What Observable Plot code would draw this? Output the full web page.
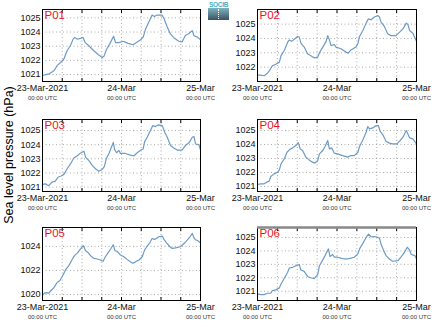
<!DOCTYPE html>
<html><head><meta charset="utf-8">
<script src="https://cdn.jsdelivr.net/npm/d3@7"></script>
<script src="https://cdn.jsdelivr.net/npm/@observablehq/plot@0.6"></script>
<style>
html,body{margin:0;padding:0;background:#fff}
#wrap{position:relative;width:434px;height:327px;overflow:hidden;font-family:"Liberation Sans",Arial,sans-serif}
.panel{position:absolute}
#ylab{position:absolute;left:9px;top:155px;transform:translate(-50%,-50%) rotate(-90deg);white-space:nowrap;font-size:12.5px;color:#000}
#logo{position:absolute;left:208px;top:2px;width:21px;height:18px}
#logo .t{font-size:6.5px;line-height:6px;color:#3fb3c8;font-weight:bold;letter-spacing:-0.3px;text-align:center}
#logo .b{height:12px;background:linear-gradient(#7fb2c0,#3a5262);position:relative}
#logo .b::after{content:"";position:absolute;left:10px;top:1px;height:10px;border-left:1px dotted #fff}
</style></head><body><div id="wrap"><div id="ylab">Sea level pressure (hPa)</div><div id="logo"><div class="t">SOCIB</div><div class="b"></div></div></div>
<script>
const startTime = Date.UTC(2021, 2, 23, 0, 0);
const panelNames = ["P01", "P02", "P03", "P04", "P05", "P06"];
const dateLabels = ["23-Mar-2021", "24-Mar", "25-Mar"];
const timeLabel = "00:00 UTC";
const labelHours = [0, 24, 48];
const gridHours = [0, 6, 12, 18, 24, 30, 36, 42, 48];

// [hours since 23-Mar-2021 00:00 UTC, hPa]
const p01 = [[0,1020.93],[1,1021.0],[2,1021.05],[3,1021.2],[3.6,1021.3],[4.5,1021.65],[5.5,1021.85],[6.5,1022.1],[7.5,1022.7],[8.5,1023.05],[9.3,1023.5],[9.8,1023.62],[10.5,1023.5],[11.5,1023.55],[12.3,1023.62],[13,1023.25],[14,1023.05],[15.5,1022.7],[17,1022.4],[18.2,1022.2],[18.7,1022.3],[19.4,1022.75],[20.5,1023.2],[21.6,1023.7],[22.2,1023.25],[23.2,1023.25],[24.5,1023.35],[26,1023.2],[27.5,1023.1],[28.8,1023.3],[29.8,1023.45],[30.6,1023.65],[31.3,1024.2],[32.3,1024.7],[33.3,1025.2],[34,1025.1],[34.8,1025.2],[36.3,1025.2],[36.9,1024.95],[37.9,1024.35],[38.9,1023.85],[39.9,1023.6],[41.4,1023.35],[42.4,1023.3],[43.4,1023.75],[44.5,1023.9],[45.5,1024.1],[46,1023.75],[47,1023.65],[48,1023.45]];
const p02 = [[0,1021.44],[1,1021.44],[2,1021.4],[3,1021.58],[3.5,1021.72],[4.5,1022.1],[5.5,1022.2],[6.6,1022.35],[7.1,1022.8],[8.1,1023.16],[9.1,1023.74],[9.6,1023.9],[10.3,1023.8],[11.1,1023.95],[12.1,1024.14],[12.6,1024.1],[13.1,1023.67],[14.1,1023.4],[15.1,1022.93],[16.1,1022.8],[17.1,1022.65],[18.2,1022.7],[18.7,1023.0],[19.7,1023.4],[20.7,1023.8],[21.2,1024.2],[21.7,1023.9],[22.2,1023.5],[23.2,1023.58],[23.7,1023.4],[25.2,1023.28],[26.7,1023.05],[27.4,1022.98],[28.2,1023.2],[29.7,1023.4],[30.3,1023.63],[30.8,1024.14],[31.8,1024.56],[32.8,1025.07],[33.5,1025.37],[34.3,1025.3],[35.3,1025.5],[36.3,1025.6],[36.8,1025.5],[37.3,1025.14],[38.3,1024.84],[39.3,1024.33],[40.3,1024.2],[41.8,1024.2],[42.9,1024.44],[43.9,1024.67],[44.9,1025.07],[45.4,1024.98],[45.9,1024.56],[46.9,1024.37],[48,1023.81]];
const p03 = [[0,1021.19],[0.9,1021.23],[1.9,1021.1],[2.9,1021.35],[3.9,1021.42],[4.7,1021.7],[5.5,1021.77],[6.5,1021.9],[7.5,1022.3],[8.5,1022.64],[9.5,1023.06],[10.5,1023.2],[11.5,1023.4],[12.6,1023.53],[13.1,1023.1],[14.1,1022.87],[15.1,1022.54],[16.1,1022.3],[17.1,1022.12],[18.1,1022.24],[18.8,1022.47],[19.4,1023.02],[20.2,1023.38],[20.9,1023.8],[21.5,1024.16],[21.9,1023.66],[22.5,1023.43],[23.2,1023.6],[23.7,1023.38],[25.2,1023.38],[26.7,1023.26],[27.7,1023.2],[28.8,1023.43],[29.8,1023.6],[30.6,1023.7],[31.0,1024.2],[31.8,1024.53],[32.8,1025.0],[33.5,1025.35],[34.3,1025.28],[35.3,1025.4],[36.4,1025.35],[37.1,1024.9],[37.9,1024.53],[38.9,1023.94],[39.9,1023.76],[40.9,1023.62],[42.4,1023.62],[43.4,1023.94],[44.5,1024.13],[45.5,1024.53],[46.0,1024.58],[46.5,1024.05],[47.5,1024.0],[48,1023.62]];
const p04 = [[0,1021.14],[1,1021.19],[2,1021.19],[2.8,1021.31],[3.5,1021.38],[4.0,1021.71],[5.0,1021.9],[6.1,1022.02],[6.6,1022.19],[7.1,1022.62],[8.1,1022.98],[8.9,1023.45],[9.6,1023.62],[10.6,1023.76],[11.6,1023.93],[12.3,1024.14],[12.9,1023.69],[13.6,1023.57],[14.6,1023.1],[15.6,1022.9],[16.6,1022.74],[17.3,1022.67],[18.2,1022.86],[18.7,1023.33],[19.7,1023.57],[20.4,1023.86],[21.2,1024.29],[21.7,1023.69],[22.4,1023.76],[23.2,1023.38],[24.2,1023.33],[25.7,1023.21],[27.2,1023.1],[28.2,1023.21],[29.2,1023.21],[30.3,1023.45],[30.8,1023.86],[31.8,1024.33],[32.8,1024.88],[33.3,1025.29],[33.8,1025.12],[34.8,1025.19],[35.8,1025.36],[36.5,1025.36],[37.0,1024.95],[37.8,1024.71],[38.8,1024.24],[39.8,1024.1],[40.8,1024.05],[42.1,1024.05],[42.9,1024.24],[43.9,1024.52],[44.9,1025.0],[45.4,1024.76],[45.9,1024.48],[46.9,1024.4],[48,1024.05]];
const p05 = [[0,1019.92],[0.6,1020.11],[1.2,1020.16],[1.9,1020.11],[2.6,1020.33],[3.4,1020.55],[4.5,1021.02],[5.3,1021.16],[6.0,1021.49],[7.0,1022.04],[8.0,1022.4],[8.8,1022.81],[9.7,1023.23],[10.5,1023.42],[11.5,1023.78],[12.4,1024.06],[13.1,1023.64],[13.8,1023.5],[14.6,1023.23],[15.4,1023.03],[16.6,1022.95],[17.6,1022.87],[18.4,1022.76],[19.1,1023.14],[19.8,1023.42],[20.7,1023.78],[21.5,1024.14],[22.0,1023.64],[22.7,1023.59],[23.7,1023.28],[24.7,1023.14],[25.7,1022.92],[26.7,1022.73],[27.5,1022.59],[28.3,1022.73],[29.3,1022.87],[30.3,1023.14],[31.0,1023.69],[31.8,1024.03],[32.6,1024.3],[33.3,1024.66],[34.0,1024.58],[34.6,1024.66],[35.3,1024.8],[36.4,1024.86],[36.9,1024.58],[37.7,1024.3],[38.7,1023.97],[39.4,1023.83],[40.4,1023.88],[41.9,1023.97],[42.7,1024.16],[43.7,1024.44],[44.8,1024.8],[45.5,1025.08],[46.0,1024.72],[46.5,1024.55],[47.2,1024.47],[48,1024.28]];
const p06 = [[0,1020.8],[1,1020.75],[2,1020.75],[3,1020.85],[4,1020.85],[4.5,1021.05],[5.5,1021.1],[6.6,1021.25],[7.1,1021.54],[8.1,1021.96],[9.1,1022.41],[9.6,1022.73],[10.6,1022.78],[11.6,1022.9],[12.6,1022.98],[13.1,1022.58],[14.1,1022.48],[15.1,1022.1],[16.1,1022.0],[17.1,1021.93],[18.2,1022.25],[18.7,1022.9],[19.7,1023.33],[20.4,1023.65],[21.4,1024.15],[21.9,1023.58],[22.7,1023.73],[23.2,1023.53],[24.2,1023.53],[25.2,1023.46],[26.2,1023.4],[27.2,1023.4],[28.2,1023.46],[29.2,1023.53],[30.3,1023.78],[30.8,1024.15],[31.8,1024.56],[32.8,1025.0],[33.5,1025.25],[34.3,1025.05],[35.3,1025.07],[36.3,1025.0],[36.8,1024.95],[37.3,1024.5],[38.1,1024.02],[38.8,1023.65],[39.8,1023.4],[40.8,1023.23],[42.4,1023.28],[43.4,1023.58],[44.4,1023.9],[45.2,1024.27],[45.9,1024.07],[46.4,1023.73],[47.5,1023.65],[48,1023.4]];

const seriesList = [p01, p02, p03, p04, p05, p06];
const yDomains = [[1020.51,1025.59],[1021.0,1026.02],[1020.69,1025.78],[1020.64,1025.79],[1019.5,1025.57],[1020.31,1025.74]];
const yTickSets = [[1021,1022,1023,1024,1025],[1022,1023,1024,1025],[1021,1022,1023,1024,1025],[1021,1022,1023,1024,1025],[1020,1022,1024],[1021,1022,1023,1024,1025]];

const toDate = h => new Date(startTime + h * 3600e3);
const labelTimes = labelHours.map(toDate);
const gridTimes = gridHours.map(toDate);

const layouts = [
  {left:0, top:0, ml:42, mr:17, mt:9, mb:29},
  {left:217, top:0, ml:40, mr:18, mt:9, mb:29},
  {left:0, top:110, ml:42, mr:17, mt:9, mb:29},
  {left:217, top:110, ml:40, mr:18, mt:9, mb:29},
  {left:0, top:217, ml:42, mr:17, mt:10, mb:27},
  {left:217, top:217, ml:40, mr:18, mt:10, mb:27}
];

const wrap = document.getElementById("wrap");
seriesList.forEach((s, i) => {
  const L = layouts[i];
  const data = s.map(([h, v]) => ({t: toDate(h), v}));
  const dom = yDomains[i];
  const marks = [
    Plot.gridX(gridTimes, {stroke:"#aaa", strokeOpacity:1, strokeDasharray:"1,2.5"}),
    Plot.gridY(yTickSets[i], {stroke:"#aaa", strokeOpacity:1, strokeDasharray:"1,2.5"}),
    Plot.line(data, {x:"t", y:"v", stroke:"#6d9bc6", strokeWidth:1.2}),
    Plot.axisX(gridTimes, {anchor:"bottom", tickSize:-3, tickFormat:() => "", stroke:"#000"}),
    Plot.axisX(gridTimes, {anchor:"top", tickSize:-3, tickFormat:() => "", stroke:"#000"}),
    Plot.axisX(labelTimes, {anchor:"bottom", tickSize:0, tickPadding:3, fontSize:9, tickFormat:(d, j) => dateLabels[j], fill:"#111"}),
    Plot.axisX(labelTimes, {anchor:"bottom", tickSize:0, tickPadding:14, fontSize:6, tickFormat:() => timeLabel, fill:"#333"}),
    Plot.axisY(yTickSets[i], {anchor:"left", tickSize:0, tickPadding:2, fontSize:9, tickFormat:d3.format("d"), fill:"#111"}),
    Plot.frame({stroke:"#000", strokeWidth:1}),
    Plot.text([panelNames[i]], {text:d => d, frameAnchor:"top-left", dx:2, dy:1, lineAnchor:"top", textAnchor:"start", fill:"#e8141c", fontSize:11.5})
  ];
  if (i === 5) marks.push(Plot.ruleY([dom[1]], {stroke:"#888", strokeWidth:2.5}));
  const chart = Plot.plot({
    width:217, height:110,
    marginLeft:L.ml, marginRight:L.mr, marginTop:L.mt, marginBottom:L.mb,
    x:{type:"utc", domain:[labelTimes[0], labelTimes[2]], label:null},
    y:{domain:dom, label:null},
    style:{fontFamily:"'Liberation Sans', Arial, sans-serif", background:"transparent", overflow:"visible", color:"#111"},
    marks
  });
  chart.classList.add("panel");
  chart.style.position = "absolute";
  chart.style.left = L.left + "px";
  chart.style.top = L.top + "px";
  wrap.appendChild(chart);
});
</script></body></html>
